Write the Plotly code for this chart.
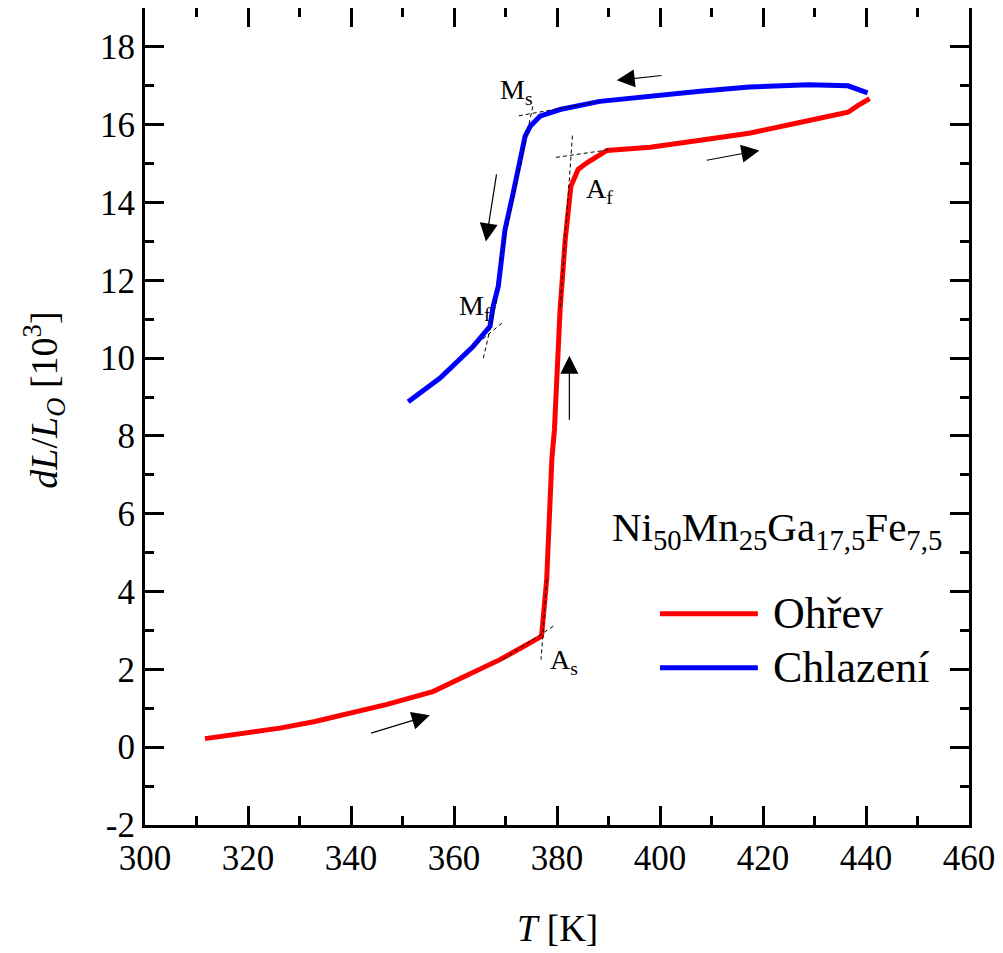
import plotly.graph_objects as go

# Heating (Ohřev) branch
heat_T = [311.65, 318.0, 326.2, 333.0, 339.8, 347.0, 355.9, 362.0, 368.9, 373.0, 377.0, 378.0, 378.4,
          379.0, 379.5, 380.3, 380.6, 381.6, 382.7, 384.1, 385.8, 389.7, 398.1, 407.8, 417.3, 426.9,
          436.5, 438.4, 440.7]
heat_v = [0.22, 0.34, 0.49, 0.66, 0.86, 1.10, 1.43, 1.80, 2.25, 2.55, 2.85, 4.31, 5.6,
          7.4, 8.16, 10.73, 11.25, 13.05, 14.42, 14.85, 15.02, 15.34, 15.42, 15.6, 15.78, 16.05,
          16.32, 16.49, 16.67]

# Cooling (Chlazení) branch
cool_T = [440.3, 439.0, 436.5, 428.8, 417.3, 407.8, 398.1, 388.3, 380.6, 376.7, 374.8, 373.8,
          371.5, 369.9, 369.6, 368.6, 367.6, 367.0, 363.7, 360.5, 357.3, 351.1]
cool_v = [16.82, 16.89, 17.0, 17.03, 16.97, 16.86, 16.74, 16.60, 16.39, 16.22, 15.96, 15.70,
          14.25, 13.30, 12.96, 11.85, 11.33, 10.82, 10.30, 9.90, 9.49, 8.88]

# Tangent construction lines (x0, y0, x1, y1)
tangents = [
    (372.6, 16.23, 388.3, 16.60),
    (375.3, 16.47, 368.9, 12.48),
    (379.8, 15.16, 390.3, 15.36),
    (383.0, 15.72, 380.6, 11.25),
    (369.3, 10.90, 363.1, 10.22),
    (368.3, 11.50, 365.7, 10.00),
    (379.3, 3.11, 368.9, 2.21),
    (378.0, 4.31, 376.9, 2.25),
]

# Direction arrows (tail_x, tail_y, tip_x, tip_y)
arrows = [
    (400.6, 17.27, 391.6, 17.14),
    (408.8, 15.08, 419.3, 15.34),
    (368.3, 14.76, 366.2, 13.00),
    (382.4, 8.38, 382.4, 10.06),
    (343.6, 0.35, 355.3, 0.82),
]

# Point labels (text, x, y)
labels = [
    ("M<sub>s</sub>", 372.2, 16.85),
    ("A<sub>f</sub>", 388.2, 14.3),
    ("M<sub>f</sub>", 364.0, 11.3),
    ("A<sub>s</sub>", 381.4, 2.2),
]

x_ticks = list(range(300, 461, 20))
y_ticks = list(range(-2, 19, 2))
y_ticktext = [str(v) for v in y_ticks]

legend_names = ["Ohřev", "Chlazení"]
legend_colors = ["#ff0000", "#0000ff"]
legend_y = [3.43, 2.04]

FONT = "Liberation Serif, Times New Roman, serif"

fig = go.Figure()
fig.add_trace(go.Scatter(x=heat_T, y=heat_v, mode="lines", name=legend_names[0],
                         line=dict(color=legend_colors[0], width=5), showlegend=False))
fig.add_trace(go.Scatter(x=cool_T, y=cool_v, mode="lines", name=legend_names[1],
                         line=dict(color=legend_colors[1], width=5), showlegend=False))

for (x0, y0, x1, y1) in tangents:
    fig.add_shape(type="line", x0=x0, y0=y0, x1=x1, y1=y1, xref="x", yref="y",
                  line=dict(color="black", width=1, dash="4px,3px"))

annotations = []
for (tx, ty, hx, hy) in arrows:
    annotations.append(dict(x=hx, y=hy, ax=tx, ay=ty, xref="x", yref="y", axref="x", ayref="y",
                            text="", showarrow=True, arrowhead=2, arrowsize=3.0, arrowwidth=1.2,
                            arrowcolor="black"))
for (t, x, y) in labels:
    annotations.append(dict(x=x, y=y, xref="x", yref="y", text=t, showarrow=False,
                            font=dict(family=FONT, size=28, color="black")))

# legend
for name, col, ly in zip(legend_names, legend_colors, legend_y):
    fig.add_shape(type="line", x0=400.0, x1=419.0, y0=ly, y1=ly, xref="x", yref="y",
                  line=dict(color=col, width=5))
    annotations.append(dict(x=421.5, y=ly, xref="x", yref="y", text=name, showarrow=False,
                            xanchor="left", yanchor="middle",
                            font=dict(family=FONT, size=44, color="black")))

annotations.append(dict(x=422.7, y=5.59, xref="x", yref="y",
                        text="Ni<sub>50</sub>Mn<sub>25</sub>Ga<sub>17,5</sub>Fe<sub>7,5</sub>",
                        showarrow=False, xanchor="center", yanchor="middle",
                        font=dict(family=FONT, size=41, color="black")))

# axis titles
annotations.append(dict(x=0.5, y=-0.127, xref="paper", yref="paper", yanchor="middle",
                        text="<i>T</i> [K]", showarrow=False,
                        font=dict(family=FONT, size=37, color="black")))
annotations.append(dict(x=-0.122, y=0.52, xref="paper", yref="paper", textangle=-90,
                        text="<i>dL</i>/<i>L</i><sub><i>O</i></sub> [10<sup>3</sup>]",
                        showarrow=False, xanchor="center", yanchor="middle",
                        font=dict(family=FONT, size=38, color="black")))

axis_common = dict(showline=True, linecolor="black", linewidth=3, mirror="ticks",
                   ticks="inside", ticklen=19, tickwidth=3, tickcolor="black",
                   showgrid=False, zeroline=False, automargin=False,
                   tickfont=dict(family=FONT, size=35, color="black"))

# Page body has an 8px margin; size the figure so the plot box lands where the reference has it.
fig.update_layout(
    width=995, height=945, template="none",
    paper_bgcolor="white", plot_bgcolor="white",
    margin=dict(l=137, r=34, t=0, b=128),
    xaxis=dict(range=[300, 460], tickmode="array", tickvals=x_ticks,
               ticktext=[str(v) for v in x_ticks],
               minor=dict(ticks="inside", ticklen=9, tickwidth=3, tickcolor="black", dtick=10, showgrid=False),
               **axis_common),
    yaxis=dict(range=[-2, 19], tickmode="array", tickvals=y_ticks, ticktext=y_ticktext,
               minor=dict(ticks="inside", ticklen=9, tickwidth=3, tickcolor="black", dtick=1, showgrid=False),
               **axis_common),
    annotations=annotations,
)

fig.write_html("out.html")
